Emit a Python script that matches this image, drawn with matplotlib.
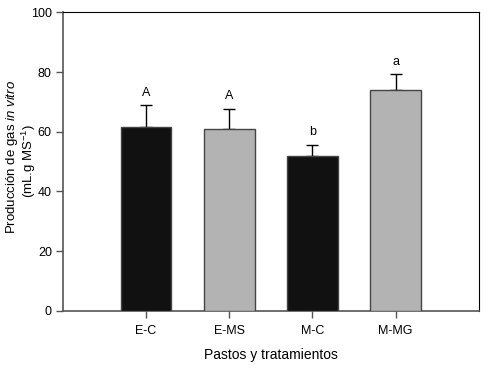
import matplotlib
matplotlib.use("Agg")
import matplotlib.pyplot as plt
import numpy as np

categories = ["E-C", "E-MS", "M-C", "M-MG"]
values = [61.7, 60.9, 51.9, 74.1]
errors = [7.1, 6.7, 3.7, 5.1]
letters = ["A", "A", "b", "a"]
colors = ["#111111", "#b3b3b3", "#111111", "#b3b3b3"]

plt.rcParams['font.family'] = ['Liberation Sans', 'DejaVu Sans']
plt.rcParams['mathtext.fontset'] = 'custom'
plt.rcParams['mathtext.rm'] = 'Liberation Sans'
plt.rcParams['mathtext.it'] = 'Liberation Sans:italic'

fig = plt.figure(figsize=(4.88, 3.83), dpi=100)
ax = fig.add_axes([0.129, 0.1888, 0.852, 0.779])

x = np.arange(1, len(categories) + 1)
ax.bar(x, values, width=0.61, color=colors, edgecolor="#444444", linewidth=1.0, zorder=3)
ax.errorbar(x, values, yerr=[np.zeros(len(errors)), errors], fmt="none",
            ecolor="black", elinewidth=1.0, capsize=4.5, capthick=1.0, zorder=2)
for xi, v, e, lab in zip(x, values, errors, letters):
    ax.text(xi, v + e + 2.3, lab, ha="center", va="bottom", fontsize=9)

ax.set_xlim(0, 5)
ax.set_ylim(0, 100)
ax.set_xticks(x)
ax.set_xticklabels(categories, fontsize=9)
ax.set_yticks([0, 20, 40, 60, 80, 100])
ax.tick_params(axis="both", direction="out", length=5, width=1, color="#555555", labelsize=9)
ax.tick_params(axis="x", pad=5)
ax.tick_params(axis="y", pad=3)
ax.spines["left"].set_color("#555555")
ax.spines["bottom"].set_color("#555555")
ax.spines["left"].set_linewidth(1.2)
ax.spines["bottom"].set_linewidth(1.2)
ax.spines["top"].set_color("black")
ax.spines["right"].set_color("black")

ax.set_xlabel("Pastos y tratamientos", fontsize=10, labelpad=8)
fig.text(12 / 488, 1 - 157 / 383, "Producción de gas $\\mathit{in\\ vitro}$",
         rotation=90, ha="center", va="center", fontsize=9.5)
fig.text(29 / 488, 1 - 161 / 383, "(mL.g MS$^{-1}$)",
         rotation=90, ha="center", va="center", fontsize=9.5)

fig.savefig("out.png", dpi=100)
